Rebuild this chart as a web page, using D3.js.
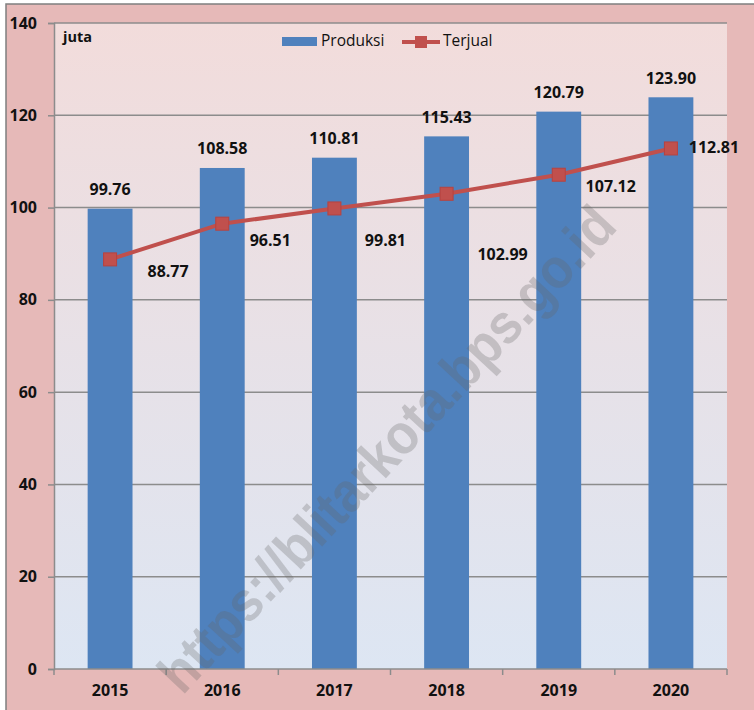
<!DOCTYPE html>
<html>
<head>
<meta charset="utf-8">
<script src="https://cdn.jsdelivr.net/npm/d3@7"></script>
<style>
  body { margin: 0; background: #fff; }
  svg text { font-family: "Open Sans", Lato, sans-serif; }
</style>
</head>
<body>
<div id="chart"></div>
<script>
const years = ['2015', '2016', '2017', '2018', '2019', '2020'];
const produksi = [99.76, 108.58, 110.81, 115.43, 120.79, 123.90];
const terjual = [88.77, 96.51, 99.81, 102.99, 107.12, 112.81];
const yTicks = [0, 20, 40, 60, 80, 100, 120, 140];

// hand placed label offsets for the Terjual series (as in the original)
const terjualDx = [58, 48, 51, 56, 52, 43];
const terjualDy = [13, 18, 33, 62, 13, 0];

const width = 754;
const height = 710;
const margin = {top: 23, right: 27, bottom: 41, left: 54};
const innerW = width - margin.left - margin.right;
const innerH = height - margin.top - margin.bottom;
const labelSize = 16;

const svg = d3.select('#chart')
  .append('svg')
  .attr('width', width)
  .attr('height', height);

const defs = svg.append('defs');
const grad = defs.append('linearGradient')
  .attr('id', 'bg')
  .attr('x1', 0).attr('y1', 0).attr('x2', 0).attr('y2', 1);
grad.append('stop').attr('offset', '0%').attr('stop-color', '#f2dcdb');
grad.append('stop').attr('offset', '100%').attr('stop-color', '#dde6f3');

// outer chart area
svg.append('rect')
  .attr('x', 6).attr('y', 4)
  .attr('width', width).attr('height', height)
  .attr('fill', '#e6b9b8')
  .attr('stroke', '#7f7f7f')
  .attr('stroke-width', 1.5);

const g = svg.append('g')
  .attr('transform', `translate(${margin.left},${margin.top})`);

g.append('rect')
  .attr('width', innerW).attr('height', innerH)
  .attr('fill', 'url(#bg)');

const x = d3.scaleBand()
  .domain(years)
  .range([0, innerW])
  .paddingInner(0.6)
  .paddingOuter(0.3);

const y = d3.scaleLinear()
  .domain([0, 140])
  .range([innerH, 0]);

// gridlines
g.append('g')
  .selectAll('line')
  .data(yTicks.filter(d => d > 0))
  .enter().append('line')
    .attr('x1', 0).attr('x2', innerW)
    .attr('y1', d => y(d)).attr('y2', d => y(d))
    .attr('stroke', '#8c8c8c')
    .attr('stroke-width', 1.5);

// bars
g.append('g')
  .selectAll('rect')
  .data(produksi)
  .enter().append('rect')
    .attr('x', (d, i) => x(years[i]))
    .attr('y', d => y(d))
    .attr('width', x.bandwidth())
    .attr('height', d => innerH - y(d))
    .attr('fill', '#4f81bd');

g.append('g')
  .selectAll('text')
  .data(produksi)
  .enter().append('text')
    .attr('x', (d, i) => x(years[i]) + x.bandwidth() / 2)
    .attr('y', d => y(d) - 18)
    .attr('text-anchor', 'middle')
    .attr('dominant-baseline', 'middle')
    .attr('font-size', labelSize)
    .attr('font-weight', 'bold')
    .attr('fill', '#111')
    .text(d => d.toFixed(2));

// axes
const yAxis = g.append('g')
  .call(d3.axisLeft(y).tickValues(yTicks).tickSize(6).tickFormat(d3.format('d')));
yAxis.select('.domain').attr('stroke', '#8c8c8c').attr('stroke-width', 1.5);
yAxis.selectAll('.tick line').attr('stroke', '#8c8c8c').attr('stroke-width', 1.5);
yAxis.selectAll('.tick text')
  .attr('x', -17)
  .attr('font-size', labelSize)
  .attr('font-weight', 'bold')
  .attr('fill', '#111')
  .style('font-family', '"Open Sans", sans-serif');

const xAxis = g.append('g')
  .attr('transform', `translate(0,${innerH})`);
xAxis.append('line')
  .attr('x1', 0).attr('x2', innerW)
  .attr('stroke', '#8c8c8c').attr('stroke-width', 1.5);
xAxis.selectAll('.xtick')
  .data(d3.range(years.length + 1))
  .enter().append('line')
    .attr('x1', i => i * innerW / years.length)
    .attr('x2', i => i * innerW / years.length)
    .attr('y1', 0).attr('y2', 6)
    .attr('stroke', '#8c8c8c').attr('stroke-width', 1.5);
xAxis.selectAll('text')
  .data(years)
  .enter().append('text')
    .attr('x', d => x(d) + x.bandwidth() / 2)
    .attr('y', 23)
    .attr('text-anchor', 'middle')
    .attr('dominant-baseline', 'middle')
    .attr('font-size', labelSize)
    .attr('font-weight', 'bold')
    .attr('fill', '#111')
    .text(d => d);

// line series
const cx = (d, i) => x(years[i]) + x.bandwidth() / 2;
const line = d3.line()
  .x(cx)
  .y(d => y(d));

g.append('path')
  .datum(terjual)
  .attr('d', line)
  .attr('fill', 'none')
  .attr('stroke', '#c0504d')
  .attr('stroke-width', 4);

g.append('g')
  .selectAll('rect')
  .data(terjual)
  .enter().append('rect')
    .attr('x', (d, i) => cx(d, i) - 6.5)
    .attr('y', d => y(d) - 6.5)
    .attr('width', 13).attr('height', 13)
    .attr('fill', '#c0504d')
    .attr('stroke', '#b8423f')
    .attr('stroke-width', 1);

g.append('g')
  .selectAll('text')
  .data(terjual)
  .enter().append('text')
    .attr('x', (d, i) => cx(d, i) + terjualDx[i])
    .attr('y', (d, i) => y(d) + terjualDy[i])
    .attr('text-anchor', 'middle')
    .attr('dominant-baseline', 'middle')
    .attr('font-size', labelSize)
    .attr('font-weight', 'bold')
    .attr('fill', '#111')
    .text(d => d.toFixed(2));

// unit label
g.append('text')
  .attr('x', 9).attr('y', 15)
  .attr('dominant-baseline', 'middle')
  .attr('font-size', 14.5)
  .attr('font-weight', 'bold')
  .attr('fill', '#111')
  .text('juta');

// legend
const legend = svg.append('g');
legend.append('rect')
  .attr('x', 282).attr('y', 37)
  .attr('width', 35).attr('height', 9)
  .attr('fill', '#4f81bd');
legend.append('text')
  .attr('x', 321).attr('y', 42)
  .attr('dominant-baseline', 'middle')
  .attr('font-size', 15.5)
  .attr('fill', '#111')
  .text('Produksi');
legend.append('line')
  .attr('x1', 402).attr('x2', 440)
  .attr('y1', 42).attr('y2', 42)
  .attr('stroke', '#c0504d').attr('stroke-width', 4);
legend.append('rect')
  .attr('x', 415).attr('y', 36)
  .attr('width', 12).attr('height', 12)
  .attr('fill', '#c0504d');
legend.append('text')
  .attr('x', 443).attr('y', 42)
  .attr('dominant-baseline', 'middle')
  .attr('font-size', 15.5)
  .attr('fill', '#111')
  .text('Terjual');

// watermark
svg.append('text')
  .attr('transform', 'translate(390,452) rotate(-47)')
  .attr('text-anchor', 'middle')
  .attr('dominant-baseline', 'middle')
  .attr('font-size', 56)
  .attr('font-weight', 'bold')
  .attr('textLength', 640)
  .attr('lengthAdjust', 'spacingAndGlyphs')
  .attr('fill', 'rgba(100,100,100,0.28)')
  .style('font-family', '"Liberation Sans", Arial, sans-serif')
  .text('https://blitarkota.bps.go.id');
</script>
</body>
</html>
